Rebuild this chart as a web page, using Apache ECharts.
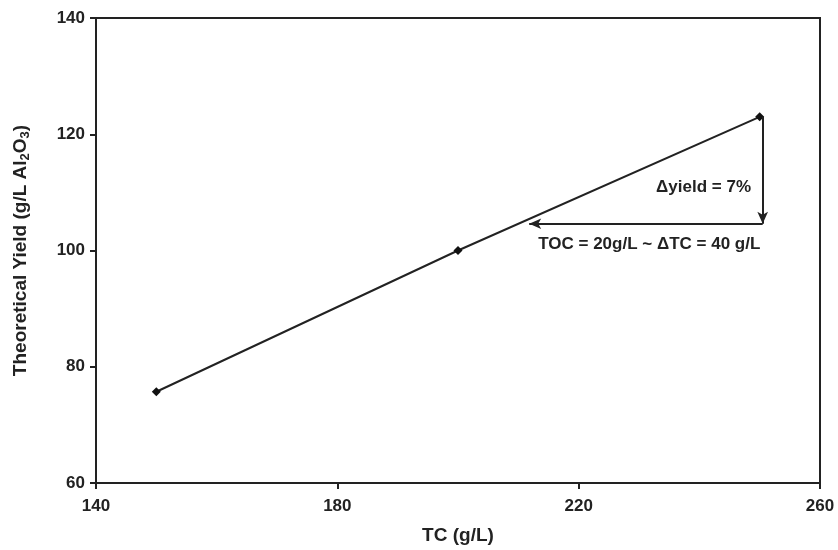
<!DOCTYPE html>
<html>
<head>
<meta charset="utf-8">
<script src="https://cdn.jsdelivr.net/npm/echarts@6/dist/echarts.min.js"></script>
<style>html,body{margin:0;padding:0;background:#fff}#c{width:838px;height:550px}</style>
</head>
<body>
<div id="c"></div>
<script>
var tcValues = [150, 200, 250];
var yieldValues = [75.7, 100.0, 123.0];
var xTicks = [140, 180, 220, 260];
var yTicks = [60, 80, 100, 120, 140];
var arrowVertical = [[250.5, 123.0], [250.5, 104.6]];
var arrowHorizontal = [[250.5, 104.6], [211.8, 104.6]];
var labelYield = {text: '\u0394yield = 7%', at: [240.7, 110.9]};
var labelToc = {text: 'TOC = 20g/L ~ \u0394TC = 40 g/L', at: [231.7, 101.1]};

var font = '"Liberation Sans", Arial, sans-serif';
var chart = echarts.init(document.getElementById('c'));
var data = tcValues.map(function (x, i) { return [x, yieldValues[i]]; });

chart.setOption({
  animation: false,
  backgroundColor: '#fff',
  grid: {left: 96, right: 18, top: 18, bottom: 64, show: true, borderColor: '#222', borderWidth: 2, backgroundColor: 'transparent'},
  xAxis: {
    type: 'value', min: xTicks[0], max: xTicks[xTicks.length - 1], interval: 40,
    name: 'TC (g/L)', nameLocation: 'middle', nameGap: 43,
    nameTextStyle: {fontFamily: font, fontWeight: 'bold', fontSize: 19, color: '#222'},
    axisLine: {show: true, lineStyle: {color: '#222', width: 2}},
    axisTick: {show: true, length: 6, inside: false, lineStyle: {color: '#222', width: 2}},
    axisLabel: {fontFamily: font, fontWeight: 'bold', fontSize: 17, color: '#222', margin: 15},
    splitLine: {show: false}
  },
  yAxis: {
    type: 'value', min: yTicks[0], max: yTicks[yTicks.length - 1], interval: 20,
    name: '{n|Theoretical Yield (g/L Al}{s|2}{n|O}{s|3}{n|)}', nameLocation: 'middle', nameGap: 64,
    nameTextStyle: {
      rich: {
        n: {fontFamily: font, fontWeight: 'bold', fontSize: 19, color: '#222'},
        s: {fontFamily: font, fontWeight: 'bold', fontSize: 13, color: '#222', padding: [9, 0, 0, 0]}
      }
    },
    axisLine: {show: true, lineStyle: {color: '#222', width: 2}},
    axisTick: {show: true, length: 6, inside: false, lineStyle: {color: '#222', width: 2}},
    axisLabel: {fontFamily: font, fontWeight: 'bold', fontSize: 17, color: '#222', margin: 11},
    splitLine: {show: false}
  },
  series: [{
    type: 'line',
    data: data,
    symbol: 'diamond',
    symbolSize: 9,
    showAllSymbol: true,
    lineStyle: {color: '#222', width: 2},
    itemStyle: {color: '#111'},
    markLine: {
      silent: true,
      symbol: ['none', 'arrow'],
      symbolSize: [8, 12],
      lineStyle: {color: '#222', width: 2, type: 'solid'},
      label: {show: false},
      data: [
        [{coord: arrowVertical[0]}, {coord: arrowVertical[1]}],
        [{coord: arrowHorizontal[0]}, {coord: arrowHorizontal[1]}]
      ]
    },
    markPoint: {
      silent: true,
      symbol: 'circle',
      symbolSize: 0,
      label: {show: true, position: 'inside', fontFamily: font, fontWeight: 'bold', fontSize: 17, color: '#222'},
      data: [
        {coord: labelYield.at, value: labelYield.text, label: {formatter: labelYield.text}},
        {coord: labelToc.at, value: labelToc.text, label: {formatter: labelToc.text}}
      ]
    }
  }]
});
</script>
</body>
</html>
